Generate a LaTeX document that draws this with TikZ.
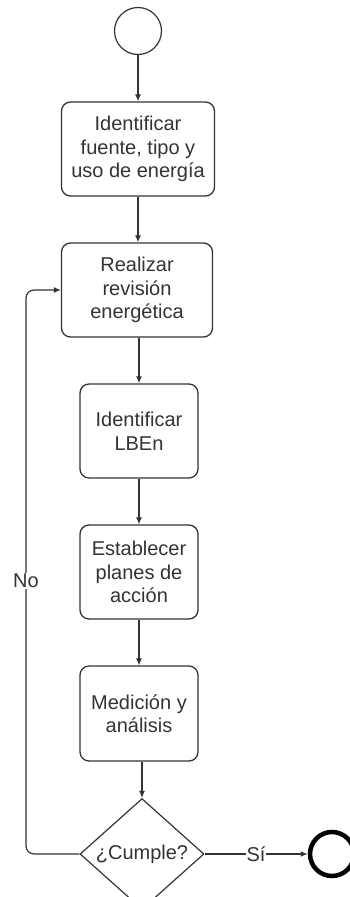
\documentclass[tikz,border=0pt]{standalone}
\usepackage{fontspec}
\setmainfont{Liberation Sans}
\usetikzlibrary{shapes.geometric,arrows.meta}
\definecolor{ink}{HTML}{333333}
\tikzset{
  box/.style={draw=ink, line width=1.3pt, rounded corners=9pt, align=center, text=ink,
    inner sep=0pt, font=\fontsize{20}{23.5}\selectfont},
  arr/.style={draw=ink, line width=1.2pt, -{Latex[length=7pt,width=6pt]}},
  lbl/.style={fill=white, text=ink, inner sep=1pt, font=\fontsize{20}{23.5}\selectfont}
}
\begin{document}
\begin{tikzpicture}[x=1pt,y=-1pt]
\useasboundingbox (0,0) rectangle (349,897);
\node[draw=ink, line width=1.2pt, circle, minimum size=47pt, inner sep=0pt] (start) at (138,31) {};
\node[box, minimum width=153pt, minimum height=94pt] (b1) at (138,149) {Identificar\\fuente, tipo y\\uso de energía};
\node[box, minimum width=151pt, minimum height=94pt] (b2) at (137,290) {Realizar\\revisión\\energética};
\node[box, minimum width=118pt, minimum height=94pt] (b3) at (139,431) {Identificar\\LBEn};
\node[box, minimum width=118pt, minimum height=94pt] (b4) at (139,572) {Establecer\\planes de\\acción};
\node[box, minimum width=118pt, minimum height=95pt] (b5) at (139,713.5) {Medición y\\análisis};
\node[draw=ink, line width=1.2pt, diamond, minimum width=124pt, minimum height=94pt, inner sep=0pt,
  text=ink, font=\fontsize{20}{23.5}\selectfont] (d) at (142,854) {¿Cumple?};
\node[draw=black, line width=4.5pt, circle, minimum size=44pt, inner sep=0pt] (end) at (332,854) {};
\draw[arr] (start.south) -- (start.south |- b1.north);
\draw[arr] (b1.south) -- (b1.south |- b2.north);
\draw[arr] (b2.south -| b3.north) -- (b3.north);
\draw[arr] (b3.south) -- (b4.north);
\draw[arr] (b4.south) -- (b5.north);
\draw[arr] (b5.south -| d.north) -- (d.north);
\coordinate (lb) at (26,854);
\coordinate (lt) at (26,290);
\draw[arr, rounded corners=8pt] (d.west) -- (lb) -- (lt) -- (b2.west);
\node[lbl] (no) at (26,581) {No};
\draw[arr] (d.east) -- (end.west);
\node[lbl] (si) at (256,854) {Sí};
\end{tikzpicture}
\end{document}
